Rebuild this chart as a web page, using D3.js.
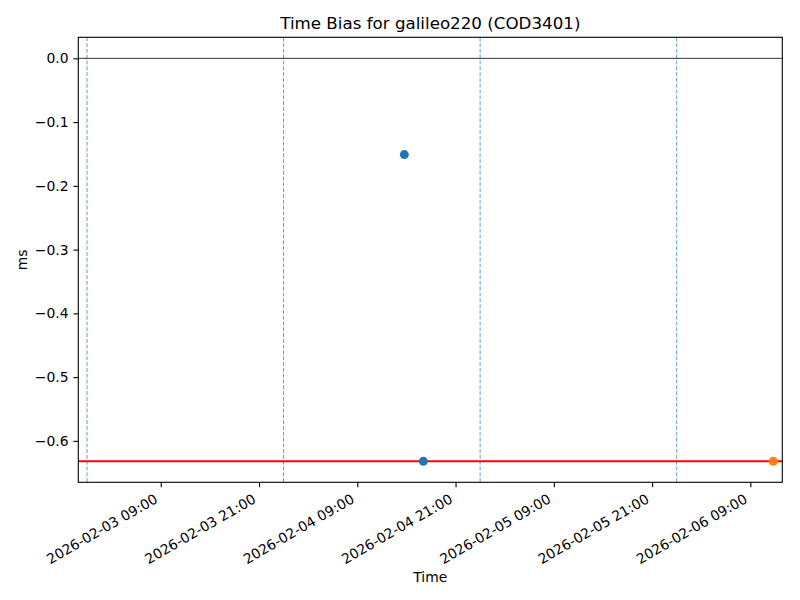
<!DOCTYPE html>
<html>
<head>
<meta charset="utf-8">
<script src="https://cdn.jsdelivr.net/npm/d3@7"></script>
<style>
  body { margin: 0; background: #fff; }
  svg { display: block; }
  svg text { font-family: "DejaVu Sans", sans-serif; }
</style>
</head>
<body>
<svg id="chart" width="800" height="600"></svg>
<script>
// ---- data ----
const titleText = "Time Bias for galileo220 (COD3401)";
const xTickLabels = ["2026-02-03 09:00", "2026-02-03 21:00", "2026-02-04 09:00", "2026-02-04 21:00",
                     "2026-02-05 09:00", "2026-02-05 21:00", "2026-02-06 09:00"];
const yTicks = [0.0, -0.1, -0.2, -0.3, -0.4, -0.5, -0.6];
const xDomain = ["2026-02-02 22:56", "2026-02-06 12:54"];
const yDomain = [-0.665, 0.033];
const blueTimes = ["2026-02-04 14:45", "2026-02-04 17:04"];
const blueValues = [-0.151, -0.632];
const orangeTimes = ["2026-02-06 11:48"];
const orangeValues = [-0.632];
const meanValue = -0.632;
const zeroValue = 0.0;
const dayLines = ["2026-02-03 00:00", "2026-02-04 00:00", "2026-02-05 00:00", "2026-02-06 00:00"];

// ---- layout ----
const parse = d3.utcParse("%Y-%m-%d %H:%M");
const fmtX = d3.utcFormat("%Y-%m-%d %H:%M");
const FONT = "DejaVu Sans";
const L = 78.3, R = 782.3, T = 37.3, B = 482.3;
const svg = d3.select("#chart");

const x = d3.scaleUtc().domain(xDomain.map(parse)).range([L, R]);
const y = d3.scaleLinear().domain(yDomain).range([B, T]);

const plot = svg.append("g");
plot.append("clipPath").attr("id", "clip").append("rect")
  .attr("x", L).attr("y", T).attr("width", R - L).attr("height", B - T);
const inner = plot.append("g").attr("clip-path", "url(#clip)");

// vertical day lines
inner.selectAll("line.day").data(dayLines.map(parse)).join("line")
  .attr("class", "day")
  .attr("x1", d => x(d)).attr("x2", d => x(d))
  .attr("y1", T).attr("y2", B)
  .attr("stroke", "#62a0ca").attr("stroke-width", 1)
  .attr("stroke-dasharray", "4,1.8");

// zero line
inner.append("line")
  .attr("x1", L).attr("x2", R)
  .attr("y1", y(zeroValue)).attr("y2", y(zeroValue))
  .attr("stroke", "#000").attr("stroke-width", 0.8);

// mean line
inner.append("line")
  .attr("x1", L).attr("x2", R)
  .attr("y1", y(meanValue)).attr("y2", y(meanValue))
  .attr("stroke", "red").attr("stroke-width", 2);

// points
const blue = blueTimes.map((t, i) => ({ t: parse(t), v: blueValues[i] }));
const orange = orangeTimes.map((t, i) => ({ t: parse(t), v: orangeValues[i] }));
inner.selectAll("circle.b").data(blue).join("circle")
  .attr("cx", d => x(d.t)).attr("cy", d => y(d.v)).attr("r", 4.5).attr("fill", "#1f77b4");
inner.selectAll("circle.o").data(orange).join("circle")
  .attr("cx", d => x(d.t)).attr("cy", d => y(d.v)).attr("r", 4.5).attr("fill", "#ff7f0e");

// axes
const xAxis = d3.axisBottom(x)
  .tickValues(xTickLabels.map(parse))
  .tickFormat(fmtX)
  .tickSizeInner(4.9).tickSizeOuter(0).tickPadding(0);
const gx = svg.append("g").attr("transform", `translate(0,${B})`).call(xAxis)
  .attr("font-family", FONT).attr("font-size", "13.9px");
gx.select(".domain").remove();
gx.selectAll(".tick line").attr("stroke", "#000").attr("stroke-width", 1.1);
gx.selectAll(".tick text")
  .attr("fill", "#000")
  .attr("text-anchor", "end")
  .attr("dy", null).attr("y", null)
  .attr("transform", "translate(-2.5,19.5) rotate(-30)");

const yAxis = d3.axisLeft(y)
  .tickValues(yTicks)
  .tickFormat(d => d3.format(".1f")(d).replace("-", "\u2212"))
  .tickSizeInner(4.9).tickSizeOuter(0).tickPadding(4.9);
const gy = svg.append("g").attr("transform", `translate(${L},0)`).call(yAxis)
  .attr("font-family", FONT).attr("font-size", "13.9px");
gy.select(".domain").remove();
gy.selectAll(".tick line").attr("stroke", "#000").attr("stroke-width", 1.1);
gy.selectAll(".tick text").attr("fill", "#000");

// frame
svg.append("rect")
  .attr("x", L).attr("y", T).attr("width", R - L).attr("height", B - T)
  .attr("fill", "none").attr("stroke", "#000").attr("stroke-width", 1.1);

// labels
svg.append("text").attr("x", (L + R) / 2).attr("y", 29)
  .attr("text-anchor", "middle").attr("font-size", "16.7px").attr("fill", "#000")
  .text(titleText);
svg.append("text").attr("x", (L + R) / 2).attr("y", 582)
  .attr("text-anchor", "middle").attr("font-size", "13.9px").attr("fill", "#000")
  .text("Time");
svg.append("text").attr("transform", `translate(27,${(T + B) / 2}) rotate(-90)`)
  .attr("text-anchor", "middle").attr("font-size", "13.9px").attr("fill", "#000")
  .text("ms");
</script>
</body>
</html>
